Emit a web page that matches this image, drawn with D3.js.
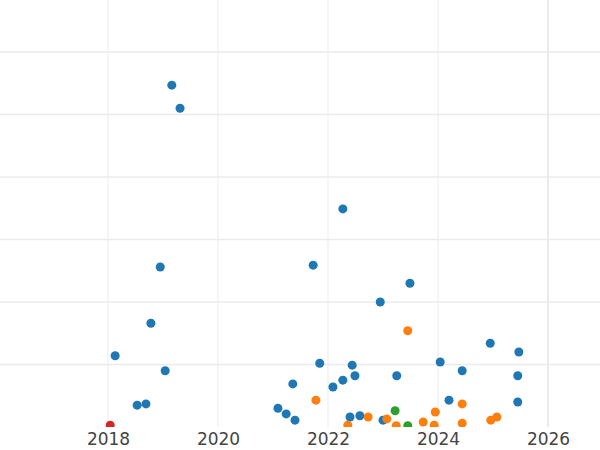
<!DOCTYPE html><html><head><meta charset="utf-8"><script src="https://cdn.jsdelivr.net/npm/d3@7"></script>
<style>body{margin:0;background:#fff}</style></head><body><svg id="c" width="600" height="450"></svg>
<script>
const xTicks=[2018,2020,2022,2024,2026];
const yGrid=[1,2,3,4,5,6];
const blue=[[2019.16,5.47],[2019.31,5.10],[2022.27,3.49],[2018.95,2.56],[2021.73,2.59],[2023.49,2.30],[2022.95,2.00],[2018.78,1.66],[2018.13,1.14],[2019.04,0.90],[2018.53,0.35],[2018.69,0.37],[2024.95,1.34],[2025.47,1.20],[2021.85,1.02],[2022.44,0.99],[2024.04,1.04],[2022.27,0.75],[2022.49,0.82],[2023.25,0.82],[2024.44,0.90],[2025.45,0.82],[2021.36,0.69],[2022.09,0.64],[2024.2,0.43],[2025.45,0.40],[2021.09,0.30],[2021.24,0.21],[2021.4,0.11],[2022.4,0.16],[2022.58,0.18],[2023.0,0.11]];
const orange=[[2023.45,1.54],[2021.78,0.43],[2022.73,0.16],[2023.07,0.13],[2022.36,0.03],[2023.24,0.02],[2023.73,0.08],[2023.95,0.24],[2023.93,0.03],[2024.44,0.37],[2024.44,0.06],[2024.96,0.11],[2025.07,0.16]];
const green=[[2023.22,0.26],[2023.45,0.02]];
const red=[[2018.04,0.03]];
const series=[[blue,"#1f77b4"],[orange,"#ff7f0e"],[green,"#2ca02c"],[red,"#d62728"]];
const svg=d3.select("#c");
const x=d3.scaleLinear().domain([2018-108/55,2018+492/55]).range([0,600]);
const y=d3.scaleLinear().domain([0,6.832]).range([427,0]);
svg.append("defs").append("clipPath").attr("id","cp").append("rect").attr("x",0).attr("y",0).attr("width",600).attr("height",427);
const g=svg.append("g");
g.selectAll(".vg").data(xTicks).join("line").attr("x1",d=>x(d)).attr("x2",d=>x(d)).attr("y1",0).attr("y2",427).attr("stroke","#ebebeb").attr("stroke-width",d=>d===2026?2:1);
g.selectAll(".hg").data(yGrid).join("line").attr("x1",0).attr("x2",600).attr("y1",d=>y(d)).attr("y2",d=>y(d)).attr("stroke","#ebebeb").attr("stroke-width",1.5);
const pts=svg.append("g").attr("clip-path","url(#cp)");
series.forEach(([d,c])=>pts.selectAll(null).data(d).join("circle").attr("cx",p=>x(p[0])).attr("cy",p=>y(p[1])).attr("r",4.5).attr("fill",c));
const ax=svg.append("g").attr("transform","translate(0,427)").call(d3.axisBottom(x).tickValues(xTicks).tickFormat(d3.format("d")).tickSize(0).tickPadding(6));
ax.select(".domain").remove();
ax.selectAll("text").attr("font-family","DejaVu Sans").attr("font-size",17).attr("fill","#444");
</script></body></html>
